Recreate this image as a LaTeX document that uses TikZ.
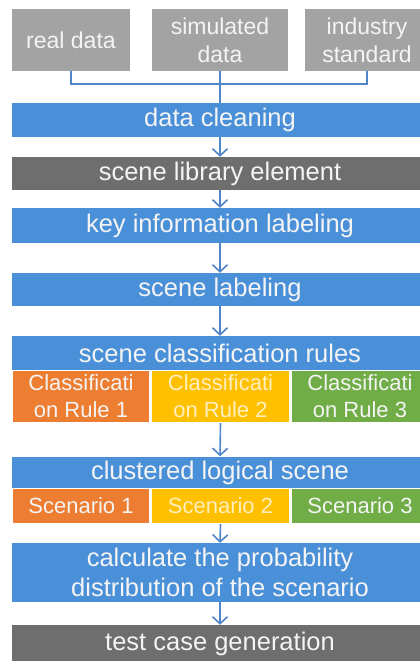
\documentclass[tikz,border=0pt]{standalone}
\usepackage{fontspec}
\setmainfont{Liberation Sans}
\usetikzlibrary{arrows.meta}
\definecolor{stepblue}{HTML}{4A90D9}
\definecolor{linkblue}{HTML}{4F86C9}
\definecolor{srcgrey}{HTML}{A3A3A3}
\definecolor{darkgrey}{HTML}{6E6E6E}
\definecolor{ruleorange}{HTML}{ED7D31}
\definecolor{ruleyellow}{HTML}{FFC000}
\definecolor{rulegreen}{HTML}{70AD47}
\definecolor{paletext}{HTML}{F4F4F4}
\tikzset{
  box/.style={rectangle, inner sep=0pt, align=center, text=paletext},
  stepbox/.style={box, fill=stepblue, minimum width=416pt, font=\fontsize{25.5}{30}\selectfont},
  greybox/.style={box, fill=darkgrey, minimum width=416pt, font=\fontsize{25.5}{30}\selectfont},
  srcbox/.style={box, fill=srcgrey, minimum height=62pt, font=\fontsize{23}{28}\selectfont},
  subbox/.style={box, minimum width=139pt, draw=white, line width=1.2pt, font=\fontsize{22}{27}\selectfont},
  link/.style={draw=linkblue, line width=1.6pt},
  flow/.style={link, -{Straight Barb[length=7pt,width=15pt,line width=1.6pt]}},
}
\begin{document}
\begin{tikzpicture}[x=1pt, y=-1pt]
\useasboundingbox[fill=white] (0,0) rectangle (420,661);

% data sources
\node[srcbox, minimum width=118pt] (real) at (71,40) {real data};
\node[srcbox, minimum width=136pt] (sim) at (220,40) {simulated\\data};
\node[srcbox, minimum width=124pt] (ind) at (367,40) {industry\\standard};

% processing chain
\node[stepbox, minimum height=34pt] (clean) at (220,120) {data cleaning};
\node[greybox, minimum height=33pt] (lib) at (220,173.5) {scene library element};
\node[stepbox, minimum height=35pt] (key) at (220,225.5) {key information labeling};
\node[stepbox, minimum height=33pt] (label) at (220,289.5) {scene labeling};
\node[stepbox, minimum height=34pt] (rules) at (220,353) {scene classification rules};
\node[subbox, fill=ruleorange, minimum width=138pt, minimum height=52pt] (cr1) at (81,396.5) {Classificati\\on Rule 1};
\node[subbox, fill=ruleyellow, minimum height=52pt, text=ruleyellow!25!white] (cr2) at (220.5,396.5) {Classificati\\on Rule 2};
\node[subbox, fill=rulegreen, minimum width=138pt, minimum height=52pt] (cr3) at (360,396.5) {Classificati\\on Rule 3};
\node[stepbox, minimum height=32pt] (cluster) at (220,472.5) {clustered logical scene};
\node[subbox, fill=ruleorange, minimum width=138pt, minimum height=35pt] (sc1) at (81,506) {Scenario 1};
\node[subbox, fill=ruleyellow, minimum height=35pt, text=ruleyellow!25!white] (sc2) at (220.5,506) {Scenario 2};
\node[subbox, fill=rulegreen, minimum width=138pt, minimum height=35pt] (sc3) at (360,506) {Scenario 3};
\node[stepbox, minimum height=59pt] (calc) at (220,572.5) {calculate the probability\\distribution of the scenario};
\node[greybox, minimum height=37pt] (test) at (220,643.5) {test case generation};

% merging the sources
\draw[link] (real.south) -- ++(0,13) -| (ind.south);
\draw[link] (sim.south) -- (clean.north);

% flow arrows
\draw[flow] (clean.south) -- (lib.north);
\draw[flow] (lib.south) -- (key.north);
\draw[flow] (key.south) -- (label.north);
\draw[flow] (label.south) -- (rules.north);
\draw[flow] (cr2.south) -- (cluster.north);
\draw[flow] (sc2.south) -- (calc.north);
\draw[flow] (calc.south) -- (test.north);
\end{tikzpicture}
\end{document}
